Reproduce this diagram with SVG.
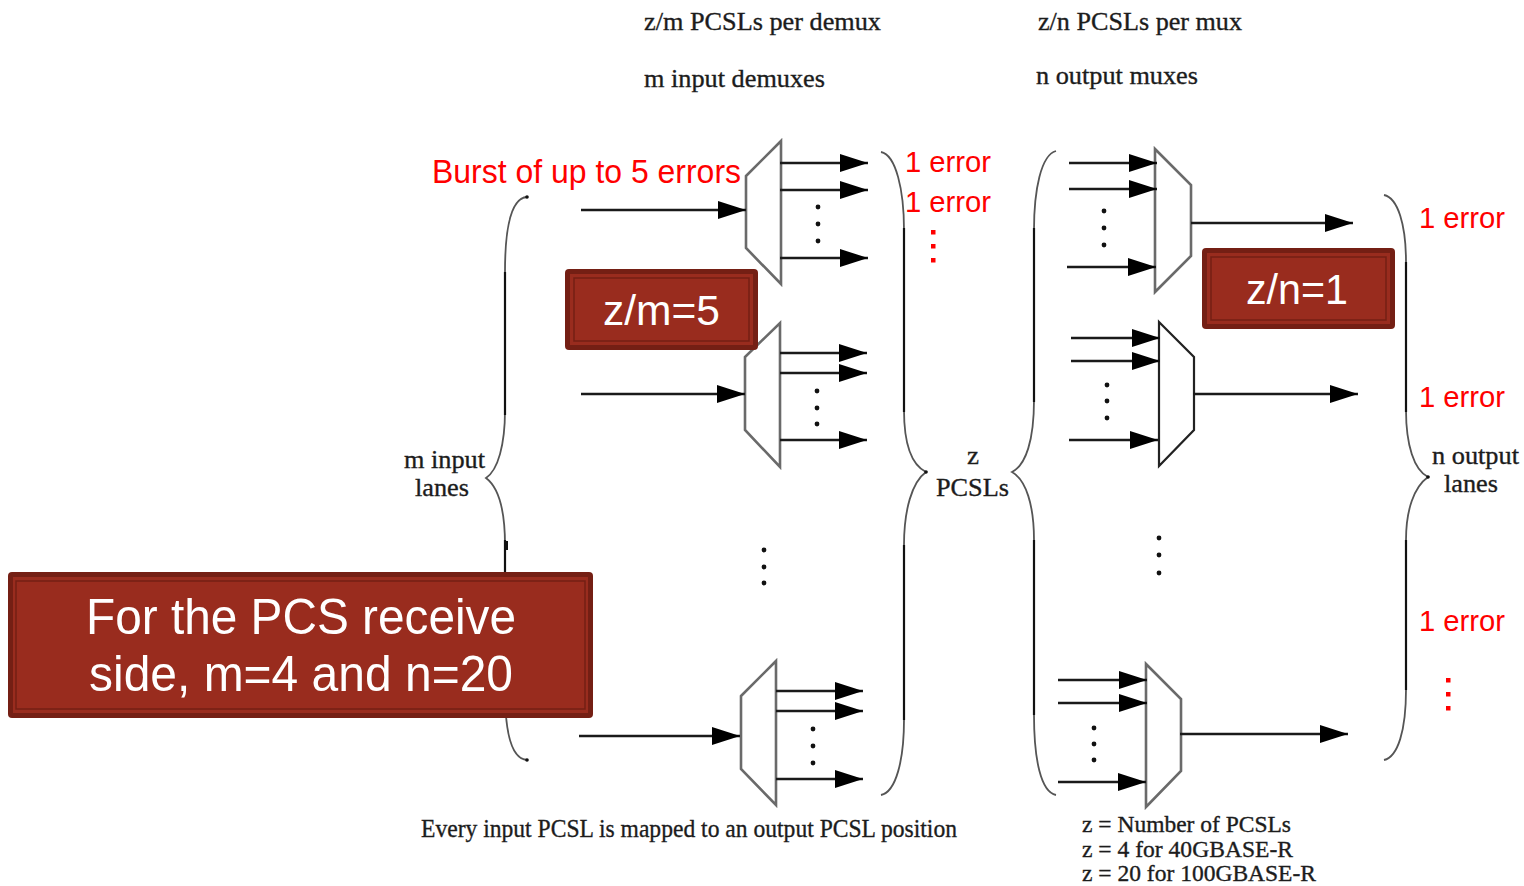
<svg xmlns="http://www.w3.org/2000/svg" width="1524" height="886" viewBox="0 0 1524 886">
<style>
.t{font-family:"Liberation Serif",serif;font-size:26px;fill:#1c1c1c;stroke:#1c1c1c;stroke-width:.35px}
.s{font-size:23px}
.r{font-family:"Liberation Sans",sans-serif;font-size:33px;fill:#ff0000}
.e{font-size:30px}
.w{font-family:"Liberation Sans",sans-serif;fill:#ffffff;text-anchor:middle}
.m{fill:#fff;stroke:#6a6a6a;stroke-width:2.6px}
.k{stroke:#222;stroke-width:2.2px}
.a{fill:none;stroke:#1a1a1a;stroke-width:2.4px;marker-end:url(#h)}
.b{fill:none;stroke:#555;stroke-width:1.8px}
.q{fill:none;stroke:#111;stroke-width:2.2px}
.d{fill:#111}
.rd{fill:#f00}
.o{fill:#741f14}
.c{fill:#992c1e}
.l{fill:none;stroke:#741f14;stroke-width:1.5px}
</style>
<defs>
<marker id="h" markerUnits="userSpaceOnUse" markerWidth="30" markerHeight="20" refX="28" refY="9" orient="auto"><path d="M0 0L28 9L0 18Z" fill="#000"/></marker>
</defs>
<g id="braces">
<path class="b" d="M527 197C512 198 505 225 505 272V410C505 445 498 470 486 478C498 487 505 510 505 545V690C505 735 512 759 527 760"/>
<path class="b" d="M881 152C896 155 904 190 904 230V410C904 445 912 465 926 472C912 482 904 510 904 545V720C904 760 896 792 881 795"/>
<path class="b" d="M1056 151C1041 155 1034 190 1034 230V400C1034 440 1026 465 1012 472C1026 480 1034 505 1034 540V715C1034 760 1041 792 1056 795"/>
<path class="b" d="M1384 195C1398 198 1406 225 1406 262V410C1406 445 1414 470 1428 477C1414 487 1406 510 1406 540V690C1406 730 1398 757 1384 760"/>
<path class="q" d="M505 272V415M505 540V575M904 228V412M904 545V720M1034 228V402M1034 540V715M1406 262V412M1406 540V690"/>
<rect class="d" x="504" y="541" width="4" height="9"/>
<circle class="d" cx="527" cy="197" r="1.800"/><circle class="d" cx="527" cy="760" r="1.800"/><circle class="d" cx="926" cy="472" r="1.800"/><circle class="d" cx="1428" cy="477" r="1.800"/>
</g>
<g id="demux1"><polygon class="m" points="746,176 781,141 781,284 746,248"/></g>
<g id="demux2"><polygon class="m" points="745,357 780,323 780,467 745,430"/></g>
<g id="demux3"><polygon class="m" points="741,696 776,661 776,805 741,769"/></g>
<g id="mux1"><polygon class="m" points="1155,149 1191,185 1191,256 1155,292"/></g>
<g id="mux2"><polygon class="m k" points="1159,322 1194,357 1194,430 1159,466"/></g>
<g id="mux3"><polygon class="m" points="1146,664 1181,699 1181,771 1146,807"/></g>
<g id="connectors">
<path class="a" d="M581 210H746"/><path class="a" d="M780 163H868"/><path class="a" d="M780 190H868"/><path class="a" d="M780 258H868"/>
<path class="a" d="M581 394H745"/><path class="a" d="M780 353H867"/><path class="a" d="M780 373H867"/><path class="a" d="M780 440H867"/>
<path class="a" d="M579 736H740"/><path class="a" d="M776 691H863"/><path class="a" d="M776 711H863"/><path class="a" d="M776 779H863"/>
<path class="a" d="M1069 163H1157"/><path class="a" d="M1069 189H1157"/><path class="a" d="M1067 267H1156"/><path class="a" d="M1191 223H1353"/>
<path class="a" d="M1071 338H1160"/><path class="a" d="M1071 361H1160"/><path class="a" d="M1069 440H1158"/><path class="a" d="M1193 394H1358"/>
<path class="a" d="M1058 680H1147"/><path class="a" d="M1058 703H1147"/><path class="a" d="M1058 782H1146"/><path class="a" d="M1180 734H1348"/>
</g>
<g id="dots">
<circle class="d" cx="818" cy="207" r="2.400"/><circle class="d" cx="818" cy="224" r="2.400"/><circle class="d" cx="818" cy="241" r="2.400"/>
<circle class="d" cx="817" cy="391" r="2.400"/><circle class="d" cx="817" cy="408" r="2.400"/><circle class="d" cx="817" cy="424" r="2.400"/>
<circle class="d" cx="813" cy="729" r="2.400"/><circle class="d" cx="813" cy="746" r="2.400"/><circle class="d" cx="813" cy="763" r="2.400"/>
<circle class="d" cx="764" cy="550" r="2.400"/><circle class="d" cx="764" cy="567" r="2.400"/><circle class="d" cx="764" cy="583" r="2.400"/>
<circle class="d" cx="1104" cy="211" r="2.400"/><circle class="d" cx="1104" cy="228" r="2.400"/><circle class="d" cx="1104" cy="245" r="2.400"/>
<circle class="d" cx="1107" cy="385" r="2.400"/><circle class="d" cx="1107" cy="401" r="2.400"/><circle class="d" cx="1107" cy="418" r="2.400"/>
<circle class="d" cx="1094" cy="728" r="2.400"/><circle class="d" cx="1094" cy="744" r="2.400"/><circle class="d" cx="1094" cy="760" r="2.400"/>
<circle class="d" cx="1159" cy="538" r="2.400"/><circle class="d" cx="1159" cy="555" r="2.400"/><circle class="d" cx="1159" cy="573" r="2.400"/>
<rect class="rd" x="931" y="230" width="4.500" height="4.500"/><rect class="rd" x="931" y="244" width="4.500" height="4.500"/><rect class="rd" x="931" y="258" width="4.500" height="4.500"/>
<rect class="rd" x="1446" y="678" width="4.500" height="4.500"/><rect class="rd" x="1446" y="692" width="4.500" height="4.500"/><rect class="rd" x="1446" y="706" width="4.500" height="4.500"/>
</g>
<g id="labels">
<text class="t" x="644" y="30" textLength="237" lengthAdjust="spacingAndGlyphs">z/m PCSLs per demux</text>
<text class="t" x="644" y="87" textLength="181" lengthAdjust="spacingAndGlyphs">m input demuxes</text>
<text class="t" x="1038" y="30" textLength="204" lengthAdjust="spacingAndGlyphs">z/n PCSLs per mux</text>
<text class="t" x="1036" y="84" textLength="162" lengthAdjust="spacingAndGlyphs">n output muxes</text>
<text class="t" x="404" y="468" textLength="81" lengthAdjust="spacingAndGlyphs">m input</text>
<text class="t" x="415" y="496" textLength="54" lengthAdjust="spacingAndGlyphs">lanes</text>
<text class="t" x="967" y="464" textLength="12" lengthAdjust="spacingAndGlyphs">z</text>
<text class="t" x="936" y="496" textLength="73" lengthAdjust="spacingAndGlyphs">PCSLs</text>
<text class="t" x="1432" y="464" textLength="87" lengthAdjust="spacingAndGlyphs">n output</text>
<text class="t" x="1444" y="492" textLength="54" lengthAdjust="spacingAndGlyphs">lanes</text>
<text class="t" x="421" y="837" textLength="536" lengthAdjust="spacingAndGlyphs">Every input PCSL is mapped to an output PCSL position</text>
<text class="t s" x="1082" y="832" textLength="209" lengthAdjust="spacingAndGlyphs">z = Number of PCSLs</text>
<text class="t s" x="1082" y="857" textLength="211" lengthAdjust="spacingAndGlyphs">z = 4 for 40GBASE-R</text>
<text class="t s" x="1082" y="881" textLength="234" lengthAdjust="spacingAndGlyphs">z = 20 for 100GBASE-R</text>
<text class="r" x="432" y="183" textLength="309" lengthAdjust="spacingAndGlyphs">Burst of up to 5 errors</text>
<text class="r e" x="905" y="172" textLength="86" lengthAdjust="spacingAndGlyphs">1 error</text>
<text class="r e" x="905" y="212" textLength="86" lengthAdjust="spacingAndGlyphs">1 error</text>
<text class="r e" x="1419" y="228" textLength="86" lengthAdjust="spacingAndGlyphs">1 error</text>
<text class="r e" x="1419" y="407" textLength="86" lengthAdjust="spacingAndGlyphs">1 error</text>
<text class="r e" x="1419" y="631" textLength="86" lengthAdjust="spacingAndGlyphs">1 error</text>
</g>
<g id="box-zm">
<rect class="o" x="565" y="269" width="193" height="81" rx="4"/>
<rect class="c" x="570" y="274" width="183" height="71"/>
<rect class="l" x="574" y="278" width="175" height="63"/>
<text class="w" x="661.500" y="325" font-size="43" textLength="117" lengthAdjust="spacingAndGlyphs">z/m=5</text>
</g>
<g id="box-zn">
<rect class="o" x="1202" y="248" width="193" height="81" rx="4"/>
<rect class="c" x="1207" y="253" width="183" height="71"/>
<rect class="l" x="1211" y="257" width="175" height="63"/>
<text class="w" x="1297" y="304" font-size="43" textLength="102" lengthAdjust="spacingAndGlyphs">z/n=1</text>
</g>
<g id="box-pcs">
<rect class="o" x="8" y="572" width="585" height="146" rx="4"/>
<rect class="c" x="13" y="577" width="575" height="136"/>
<rect class="l" x="16" y="581" width="569" height="128"/>
<text class="w" x="301" y="634" font-size="50" textLength="430" lengthAdjust="spacingAndGlyphs">For the PCS receive</text>
<text class="w" x="301" y="691" font-size="50" textLength="424" lengthAdjust="spacingAndGlyphs">side, m=4 and n=20</text>
</g>
</svg>
